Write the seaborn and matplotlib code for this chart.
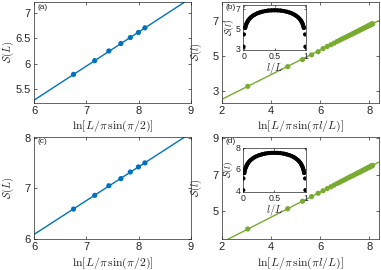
import matplotlib
matplotlib.use("Agg")
import matplotlib.pyplot as plt
import seaborn as sns

# ---- data ----
# panels (a) and (c): S(L) vs ln[L/pi sin(pi/2)]
xa_pts = [6.755, 7.16, 7.43, 7.66, 7.84, 7.995, 8.12]
ya_pts = [5.795, 6.064, 6.253, 6.398, 6.515, 6.614, 6.705]
xa_line = [6.0, 9.0]
ya_line = [5.29, 7.29]

xc_pts = [6.755, 7.16, 7.43, 7.66, 7.84, 7.995, 8.12]
yc_pts = [6.59, 6.86, 7.05, 7.19, 7.32, 7.42, 7.50]
xc_line = [6.0, 9.0]
yc_line = [6.09, 8.09]

# panels (b) and (d): S(l) vs ln[L/pi sin(pi l/L)]
xb_pts = [3.05, 4.68, 5.28, 5.65, 5.92, 6.12, 6.29, 6.44, 6.57, 6.69, 6.80, 6.90,
          6.99, 7.08, 7.16, 7.24, 7.31, 7.38, 7.45, 7.51, 7.57, 7.63, 7.68, 7.73,
          7.78, 7.83, 7.87, 7.91, 7.95, 7.99, 8.02, 8.05, 8.08, 8.10, 8.12, 8.14]
yb_pts = [3.27, 4.39, 4.79, 5.06, 5.24, 5.42, 5.54, 5.64, 5.73, 5.82, 5.90, 5.97,
          6.03, 6.09, 6.15, 6.20, 6.25, 6.30, 6.35, 6.39, 6.43, 6.48, 6.51, 6.55,
          6.58, 6.62, 6.64, 6.67, 6.70, 6.73, 6.75, 6.77, 6.79, 6.81, 6.82, 6.83]
xb_line = [2.0, 8.4]
yb_line = [2.535, 7.015]

xd_pts = xb_pts
yd_pts = [4.00, 5.12, 5.53, 5.79, 5.97, 6.11, 6.23, 6.33, 6.42, 6.51, 6.58, 6.65,
          6.71, 6.78, 6.83, 6.89, 6.93, 6.98, 7.03, 7.07, 7.11, 7.15, 7.19, 7.22,
          7.26, 7.29, 7.32, 7.35, 7.38, 7.40, 7.42, 7.44, 7.47, 7.48, 7.49, 7.51]
xd_line = [2.0, 8.4]
yd_line = [3.27, 7.69]

# insets: S(l) vs l/L
u_in = [0.0, 0.005, 0.025, 0.03, 0.04, 0.05, 0.06, 0.07, 0.08, 0.10, 0.12, 0.15,
        0.18, 0.22, 0.26, 0.30, 0.35, 0.40, 0.45, 0.50, 0.55, 0.60, 0.65, 0.70,
        0.74, 0.78, 0.82, 0.85, 0.88, 0.90, 0.92, 0.93, 0.94, 0.95, 0.96, 0.97,
        0.975, 0.995, 1.0]
sb_in = [3.16, 4.40, 5.05, 5.18, 5.38, 5.53, 5.66, 5.76, 5.86, 6.01, 6.13, 6.28,
         6.39, 6.52, 6.61, 6.68, 6.75, 6.80, 6.82, 6.83, 6.82, 6.80, 6.75, 6.68,
         6.61, 6.52, 6.39, 6.28, 6.13, 6.01, 5.86, 5.76, 5.66, 5.53, 5.38, 5.18,
         5.05, 4.40, 3.16]
ud_in = [0.0, 0.005, 0.02, 0.03, 0.04, 0.05, 0.06, 0.07, 0.08, 0.10, 0.12, 0.15,
         0.18, 0.22, 0.26, 0.30, 0.35, 0.40, 0.45, 0.50, 0.55, 0.60, 0.65, 0.70,
         0.74, 0.78, 0.82, 0.85, 0.88, 0.90, 0.92, 0.93, 0.94, 0.95, 0.96, 0.97,
         0.98, 0.995, 1.0]
sd_in = [4.00, 5.10, 5.61, 5.89, 6.09, 6.24, 6.36, 6.47, 6.56, 6.71, 6.83, 6.97,
         7.09, 7.21, 7.30, 7.37, 7.44, 7.49, 7.51, 7.52, 7.51, 7.49, 7.44, 7.37,
         7.30, 7.21, 7.09, 6.97, 6.83, 6.71, 6.56, 6.47, 6.36, 6.24, 6.09, 5.89,
         5.61, 5.10, 4.00]

blue = "#0072BD"
green = "#77AC30"

sns.set_style("ticks")
plt.rcParams["font.family"] = ["Liberation Sans", "DejaVu Sans"]
plt.rcParams["mathtext.fontset"] = "cm"
plt.rcParams["axes.linewidth"] = 0.5
plt.rcParams["axes.edgecolor"] = "#262626"
plt.rcParams["xtick.direction"] = "in"
plt.rcParams["ytick.direction"] = "in"
plt.rcParams["xtick.major.size"] = 2
plt.rcParams["ytick.major.size"] = 2
plt.rcParams["xtick.major.width"] = 0.5
plt.rcParams["ytick.major.width"] = 0.5
plt.rcParams["xtick.major.pad"] = 2.5
plt.rcParams["ytick.major.pad"] = 2.5

W, H = 381, 270
fig = plt.figure(figsize=(W / 100, H / 100), dpi=100)


def px_axes(x0, y0, x1, y1):
    return fig.add_axes([x0 / W, 1 - y1 / H, (x1 - x0) / W, (y1 - y0) / H])


def style(ax, tick_fs=8):
    ax.tick_params(top=True, right=True, labelsize=tick_fs, colors="#262626")
    for s in ax.spines.values():
        s.set_visible(True)


def main_panel(ax, xl, yl, xp, yp, color, xlim, ylim, xticks, yticks, xlabel, ylabel, tag):
    sns.lineplot(x=xl, y=yl, ax=ax, color=color, lw=1.0, sort=False, estimator=None)
    sns.scatterplot(x=xp, y=yp, ax=ax, color=color, s=14, edgecolor="none", zorder=3)
    ax.set_xlim(*xlim)
    ax.set_ylim(*ylim)
    ax.set_xticks(xticks)
    ax.set_yticks(yticks)
    ax.set_xlabel(xlabel, fontsize=8.5, labelpad=2)
    ax.set_ylabel(ylabel, fontsize=7.5)
    ax.yaxis.set_label_coords(-0.112, 0.5)
    ax.text(0.02, 0.985, tag, transform=ax.transAxes, fontsize=6, va="top", ha="left",
            color="#262626")
    style(ax)


def inset(ax, u, s, ylim, yticks, ytl):
    sns.scatterplot(x=u, y=s, ax=ax, color="black", s=9, edgecolor="none", zorder=3)
    sns.lineplot(x=u[2:-2], y=s[2:-2], ax=ax, color="black", lw=2.8, sort=False, estimator=None)
    ax.set_xlim(-0.01, 1.01)
    ax.set_ylim(*ylim)
    ax.set_xticks([0, 0.5, 1])
    ax.set_xticklabels(["0", "0.5", "1"])
    ax.set_yticks(yticks)
    ax.set_yticklabels(ytl)
    ax.set_xlabel(r"$l/L$", fontsize=7.5, labelpad=-0.5)
    ax.set_ylabel(r"$\mathcal{S}(l)$", fontsize=7, labelpad=0)
    style(ax, tick_fs=6.3)
    ax.tick_params(pad=1.5, length=1.5)
    ax.set_facecolor("white")


xlab_a = r"$\ln[L/\pi\,\sin(\pi/2)]$"
xlab_b = r"$\ln[L/\pi\,\sin(\pi l/L)]$"

ax_a = px_axes(34, 2, 191, 102.5)
main_panel(ax_a, xa_line, ya_line, xa_pts, ya_pts, blue, (6, 9), (5.245, 7.21),
           [6, 7, 8, 9], [5.5, 6, 6.5, 7], xlab_a, r"$\mathcal{S}(L)$", "(a)")
ax_a.set_yticklabels(["5.5", "6", "6.5", "7"])

ax_b = px_axes(222, 2, 379, 102.5)
main_panel(ax_b, xb_line, yb_line, xb_pts, yb_pts, green, (2, 8.4), (2.35, 8.07),
           [2, 4, 6, 8], [3, 5, 7], xlab_b, r"$\mathcal{S}(l)$", "(b)")

ax_c = px_axes(34, 136.5, 191, 239)
main_panel(ax_c, xc_line, yc_line, xc_pts, yc_pts, blue, (6, 9), (6, 8.02),
           [6, 7, 8, 9], [6, 7, 8], xlab_a, r"$\mathcal{S}(L)$", "(c)")

ax_d = px_axes(222, 136.5, 379, 239)
main_panel(ax_d, xd_line, yd_line, xd_pts, yd_pts, green, (2, 8.4), (3.45, 9.1),
           [2, 4, 6, 8], [5, 7, 9], xlab_b, r"$\mathcal{S}(l)$", "(d)")

ax_bi = px_axes(243, 5.3, 306, 50)
inset(ax_bi, u_in, sb_in, (2.83, 7.33), [3, 5, 7], ["3", "5", "7"])

ax_di = px_axes(242.5, 147.7, 306, 191.7)
inset(ax_di, ud_in, sd_in, (3.85, 8.0), [4, 6, 8], ["4", "6", "8"])

fig.savefig("out.png", dpi=100)
